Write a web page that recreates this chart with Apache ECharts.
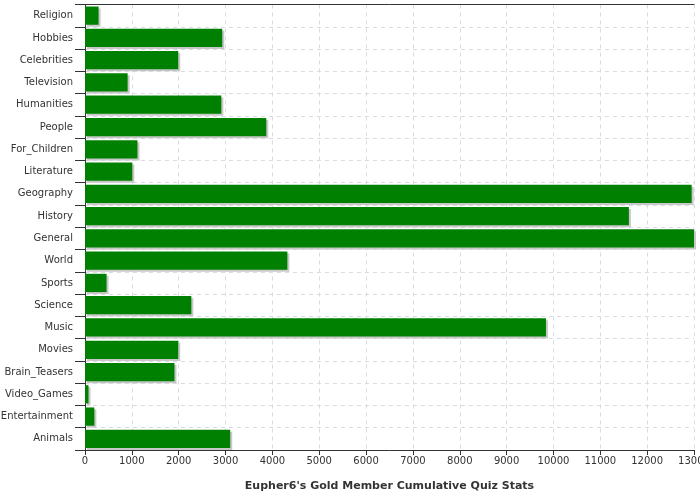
<!DOCTYPE html>
<html>
<head>
<meta charset="utf-8">
<script src="https://cdn.jsdelivr.net/npm/echarts@6/dist/echarts.min.js"></script>
<style>
  html, body { margin: 0; padding: 0; background: #fff; }
  #chart { width: 700px; height: 500px; }
</style>
</head>
<body>
<div id="chart"></div>
<script>
// categories listed bottom to top (ECharts category axis grows upward)
const categories = [
  "Animals", "Entertainment", "Video_Games", "Brain_Teasers", "Movies",
  "Music", "Science", "Sports", "World", "General", "History", "Geography",
  "Literature", "For_Children", "People", "Humanities", "Television",
  "Celebrities", "Hobbies", "Religion"
];
const scores = [
  3100, 200, 75, 1910, 1990,
  9840, 2270, 460, 4320, 13000, 11610, 12950,
  1010, 1120, 3870, 2910, 910,
  1990, 2930, 290
];
const chartTitle = "Eupher6's Gold Member Cumulative Quiz Stats";

const chart = echarts.init(document.getElementById("chart"));
const font = "DejaVu Sans";
const gridLine = { show: true, lineStyle: { color: "#d5dde3", type: [4, 4] } };
const frameLine = { show: true, lineStyle: { color: "#333", width: 1 } };
chart.setOption({
  animation: false,
  grid: {
    left: 85, right: 6, top: 4.5, bottom: 50,
    outerBoundsMode: "none",
    containLabel: false
  },
  xAxis: [{
    type: "value",
    min: 0, max: 13000, interval: 1000,
    name: chartTitle,
    nameLocation: "middle",
    nameGap: 31,
    nameTextStyle: { fontFamily: font, fontSize: 11, fontWeight: "bold", color: "#333" },
    axisLine: frameLine,
    axisTick: { show: true, length: 5, lineStyle: { color: "#333" } },
    axisLabel: {
      fontFamily: font, fontSize: 10, color: "#333", margin: 6,
      formatter: (v) => String(v)
    },
    splitLine: gridLine
  }, {
    type: "value",
    position: "top",
    min: 0, max: 13000,
    axisLine: frameLine,
    axisTick: { show: false },
    axisLabel: { show: false },
    splitLine: { show: false }
  }],
  yAxis: [{
    type: "category",
    data: categories,
    axisLine: frameLine,
    axisTick: { show: true, length: 10, lineStyle: { color: "#333" } },
    axisLabel: { fontFamily: font, fontSize: 10, color: "#333", margin: 12 },
    splitLine: gridLine
  }, {
    type: "category",
    position: "right",
    data: categories,
    axisLine: frameLine,
    axisTick: { show: false },
    axisLabel: { show: false },
    splitLine: { show: false }
  }],
  series: [{
    type: "bar",
    data: scores,
    barCategoryGap: "18%",
    itemStyle: {
      color: "#008000",
      shadowColor: "#c8c8c8",
      shadowBlur: 0,
      shadowOffsetX: 2,
      shadowOffsetY: 2
    }
  }]
});
</script>
</body>
</html>
